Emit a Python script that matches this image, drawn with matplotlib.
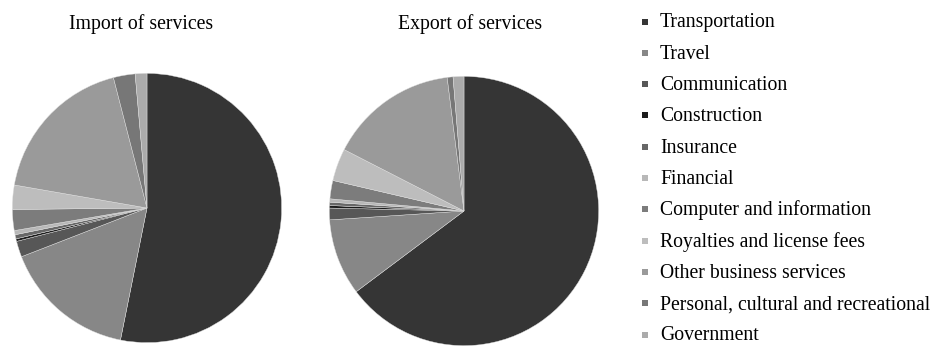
import matplotlib.pyplot as plt
from matplotlib.lines import Line2D

plt.rcParams['font.family'] = ['Liberation Serif', 'DejaVu Serif']

categories = ['Transportation', 'Travel', 'Communication', 'Construction',
              'Insurance', 'Financial', 'Computer and information',
              'Royalties and license fees', 'Other business services',
              'Personal, cultural and recreational', 'Government']

# shares in percent
import_share = [53.0, 15.9, 1.9, 0.3, 0.5, 0.5, 2.5, 2.9, 18.2, 2.6, 1.4]
export_share = [64.9, 9.2, 1.4, 0.3, 0.4, 0.4, 2.2, 3.9, 15.5, 0.7, 1.3]

colors = ['#353535', '#878787', '#575757', '#1c1c1c', '#676767', '#b8b8b8',
          '#7c7c7c', '#bdbdbd', '#9a9a9a', '#777777', '#ababab']

W, H = 931, 348
fig = plt.figure(figsize=(W / 100, H / 100), dpi=100)


def draw_pie(cx, cy, r, values, title, title_x):
    ax = fig.add_axes([(cx - r) / W, (H - cy - r) / H, 2 * r / W, 2 * r / H])
    ax.pie(values, colors=colors, startangle=90, counterclock=False,
           wedgeprops=dict(linewidth=0.3, edgecolor='#e0e0e0'))
    ax.set_xlim(-1.01, 1.01)
    ax.set_ylim(-1.01, 1.01)
    ax.set_aspect('equal')
    ax.axis('off')
    fig.text(title_x / W, 1 - 29 / H, title, ha='center', va='baseline',
             fontsize=14.2)


draw_pie(147, 208, 136, import_share, 'Import of services', 141.5)
draw_pie(464, 211, 136, export_share, 'Export of services', 470)

# legend, one row per category
for i, (label, c) in enumerate(zip(categories, colors)):
    base = 27.5 + 31.3 * i
    fig.text(660 / W, 1 - base / H, label, ha='left', va='baseline',
             fontsize=14.2)
    fig.add_artist(Line2D([645 / W], [1 - (base - 6) / H],
                          transform=fig.transFigure, linestyle='none',
                          marker='s', markersize=4, markerfacecolor=c,
                          markeredgewidth=0))

fig.savefig('out.png', dpi=100, facecolor='white')
